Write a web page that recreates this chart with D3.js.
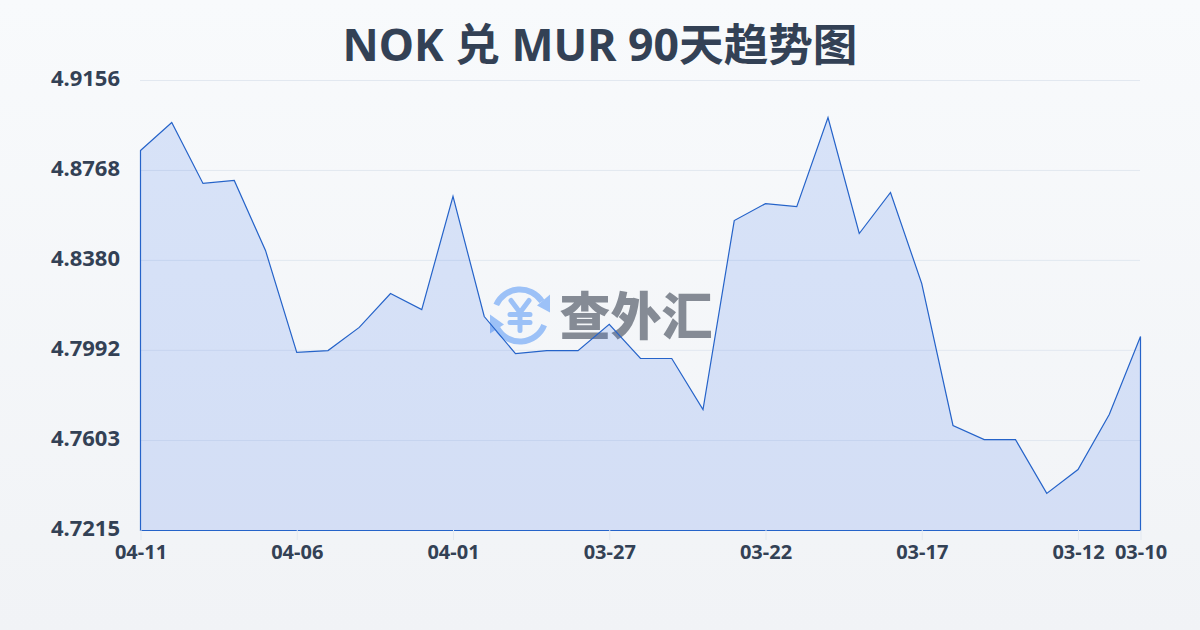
<!DOCTYPE html>
<html><head><meta charset="utf-8">
<script src="https://cdn.jsdelivr.net/npm/d3@7/dist/d3.min.js"></script>
<style>
html,body{margin:0;padding:0;width:1200px;height:630px;overflow:hidden}
text{font-family:"Noto Sans","Noto Sans CJK SC",sans-serif}
</style></head><body>
<svg id="c" width="1200" height="630" xmlns="http://www.w3.org/2000/svg"></svg>
<script>
const titleText="NOK 兑 MUR 90天趋势图";
const watermarkText="查外汇";
const values=[4.8854,4.8975,4.8712,4.8725,4.8423,4.7983,4.7991,4.8091,4.8237,4.8168,4.8656,4.8138,4.7978,4.7991,4.7991,4.8104,4.7957,4.7957,4.7737,4.8552,4.8625,4.8612,4.8996,4.8496,4.8673,4.8280,4.7668,4.7607,4.7607,4.7375,4.7478,4.7715,4.8052];
const xTickIndex=[0,5,10,15,20,25,30,32];
const xTickLabels=["04-11","04-06","04-01","03-27","03-22","03-17","03-12","03-10"];
const yTicks=[4.7215,4.7603,4.7992,4.8380,4.8768,4.9156];

const svg=d3.select("#c");
const defs=svg.append("defs");
const bg=defs.append("linearGradient").attr("id","bg").attr("x1",0).attr("y1",0).attr("x2",0).attr("y2",1);
bg.append("stop").attr("offset","0%").attr("stop-color","#f8fafc");
bg.append("stop").attr("offset","100%").attr("stop-color","#f1f3f6");
svg.append("rect").attr("width",1200).attr("height",630).attr("fill","url(#bg)");

const x=d3.scaleLinear().domain([0,values.length-1]).range([140.5,1140.5]);
const y=d3.scaleLinear().domain([yTicks[0],yTicks[yTicks.length-1]]).range([530.5,80.5]);

svg.append("text").attr("x",600).attr("y",61).attr("text-anchor","middle")
  .attr("font-size",44.6).attr("font-weight",700).attr("fill","#334155").text(titleText);

const yAxis=svg.append("g").attr("transform","translate(140,-2)")
  .call(d3.axisLeft(y).tickValues(yTicks).tickFormat(d3.format(".4f")).tickSize(0).tickPadding(20));
yAxis.select(".domain").remove();
yAxis.selectAll("text").attr("font-size",22).attr("font-weight",700).attr("fill","#334155").style("font-family",'"Noto Sans",sans-serif');
svg.append("g").selectAll("line").data(yTicks).join("line")
  .attr("x1",140).attr("x2",1140).attr("y1",d=>y(d)).attr("y2",d=>y(d))
  .attr("stroke","#e2e8f0").attr("stroke-width",1);

// watermark
const wm=svg.append("g");
wm.append("text").attr("x",636).attr("y",335).attr("text-anchor","middle")
  .attr("font-size",51).attr("font-weight",900).attr("fill","#858b95")
  .style("font-family",'"Noto Sans CJK SC",sans-serif').text(watermarkText);
const ic=wm.append("g").attr("transform","translate(520,315.5)").attr("fill","none").attr("stroke","#9cc1f7");
const arc=d3.arc().innerRadius(26).outerRadius(26);
ic.append("path").attr("d",arc({startAngle:-1.15,endAngle:1.0})).attr("stroke-width",6).attr("stroke-linecap","round");
ic.append("path").attr("d",arc({startAngle:1.95,endAngle:4.2})).attr("stroke-width",6).attr("stroke-linecap","round");
ic.append("path").attr("d","M17,-10L30,-21L30,-3Z").attr("fill","#9cc1f7").attr("stroke","none");
ic.append("path").attr("d","M-30,18L-30,-1L-16,9Z").attr("fill","#9cc1f7").attr("stroke","none");
ic.append("path").attr("d","M-9,-15L0,-3L9,-15M0,-3V15M-10,-1H10M-10,7H10").attr("stroke-width",5).attr("stroke-linecap","round").attr("stroke-linejoin","round");

const area=d3.area().x((d,i)=>x(i)).y0(y(yTicks[0])).y1(d=>y(d));
svg.append("path").datum(values).attr("d",d=>area(d)+"Z")
  .attr("fill","#2563eb").attr("fill-opacity",.15).attr("stroke","none");
svg.append("path").datum(values).attr("d",d=>area(d)+"Z")
  .attr("fill","none").attr("stroke","#2563c9").attr("stroke-width",1.2).attr("stroke-linejoin","miter");

const xAxis=svg.append("g").attr("transform","translate(0,530)")
  .call(d3.axisBottom(x).tickValues(xTickIndex).tickFormat((d,i)=>xTickLabels[i]).tickSize(10).tickPadding(5));
xAxis.select(".domain").remove();
xAxis.selectAll("line").attr("stroke","#e2e8f0");
xAxis.selectAll("text").attr("font-size",20).attr("font-weight",700).attr("fill","#334155").style("font-family",'"Noto Sans",sans-serif');
</script></body></html>
